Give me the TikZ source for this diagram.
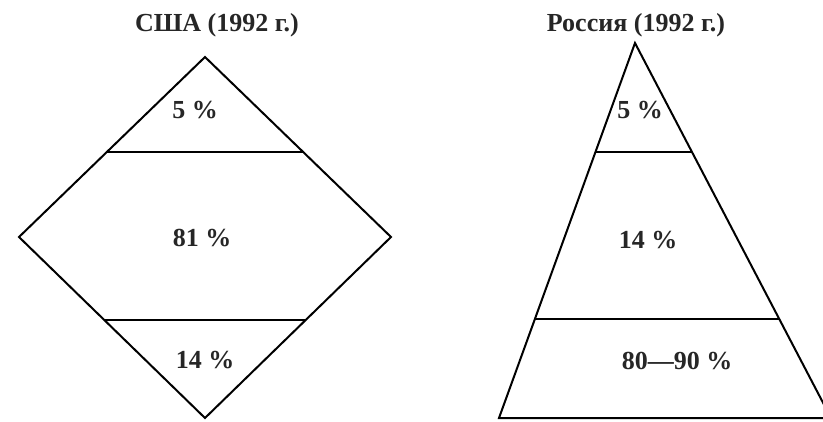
\documentclass[tikz,border=0pt]{standalone}
\usepackage{fontspec}
\setmainfont{Liberation Serif}
\begin{document}
\begin{tikzpicture}[x=1pt,y=-1pt,
  edge/.style={line width=2pt, line join=miter},
  lbl/.style={font=\fontsize{26}{30}\selectfont\bfseries, inner sep=0pt, text=black!85}]
\useasboundingbox (0,0) rectangle (823,421);
\clip (0,0) rectangle (823,421);
% USA diamond
\coordinate (dT) at (205,57);
\coordinate (dL) at (19,237);
\coordinate (dR) at (391,237);
\coordinate (dB) at (205,418);
\coordinate (du1) at (107,152);
\coordinate (du2) at (303,152);
\coordinate (dl1) at (104,320);
\coordinate (dl2) at (306,320);
\draw[edge] (dT) -- (dR) -- (dB) -- (dL) -- cycle;
\draw[edge] (du1) -- (du2);
\draw[edge] (dl1) -- (dl2);
% Russia triangle
\coordinate (tA) at (635,43);
\coordinate (tL) at (499,418);
\coordinate (tR) at (831,418);
\coordinate (tu1) at (595,152);
\coordinate (tu2) at (692,152);
\coordinate (tl1) at (535,319);
\coordinate (tl2) at (779,319);
\draw[edge] (tA) -- (tR) -- (tL) -- cycle;
\draw[edge] (tu1) -- (tu2);
\draw[edge] (tl1) -- (tl2);
% titles
\node[lbl] (t1) at (217,25) {США (1992 г.)};
\node[lbl] (t2) at (636,25) {Россия (1992 г.)};
% labels
\node[lbl] (a1) at (195,110) {5 \%};
\node[lbl] (a2) at (202,238) {81 \%};
\node[lbl] (a3) at (205,360) {14 \%};
\node[lbl] (b1) at (640,110) {5 \%};
\node[lbl] (b2) at (648,240) {14 \%};
\node[lbl] (b3) at (677,361) {80—90 \%};
\end{tikzpicture}
\end{document}
